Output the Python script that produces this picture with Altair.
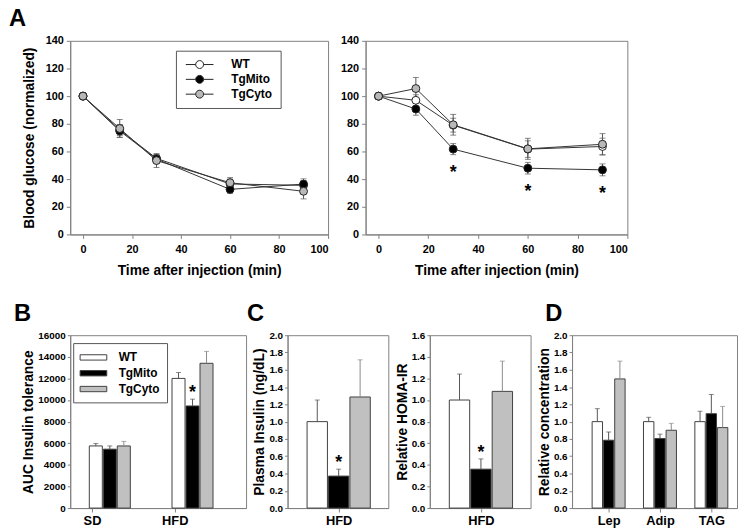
import altair as alt
import pandas as pd

F = "Liberation Sans"
groups = ["WT", "TgMito", "TgCyto"]

# ---------------- Panel A: insulin tolerance time courses ----------------
times = [0, 15, 30, 60, 90]
# left (SD)
sd_wt = [100, 75.5, 55.0, 36.5, 35.5]
sd_wt_err = [0, 4.0, 3.0, 3.5, 3.5]
sd_mito = [100, 74.8, 54.5, 32.6, 36.4]
sd_mito_err = [0, 4.5, 3.0, 3.0, 3.8]
sd_cyto = [100, 76.6, 53.4, 37.4, 31.2]
sd_cyto_err = [0, 6.5, 5.0, 3.7, 5.5]
# right (HFD)
hfd_wt = [100, 97.0, 79.0, 61.7, 63.6]
hfd_wt_err = [0, 4.0, 5.0, 6.0, 6.0]
hfd_mito = [100, 90.7, 61.7, 47.9, 46.7]
hfd_mito_err = [0, 4.5, 4.0, 4.2, 4.3]
hfd_cyto = [100, 105.5, 79.3, 61.9, 65.2]
hfd_cyto_err = [0, 8.0, 7.5, 7.6, 7.7]
hfd_star_times = [30, 60, 90]

# ---------------- Panel B: AUC ----------------
auc_cats = ["SD", "HFD"]
auc_wt = [5750, 12000]
auc_wt_err = [220, 550]
auc_mito = [5450, 9450]
auc_mito_err = [300, 630]
auc_cyto = [5750, 13400]
auc_cyto_err = [420, 1100]
auc_star_cats = ["HFD"]

# ---------------- Panel C ----------------
c_cats = ["HFD"]
ins_wt, ins_wt_err = [1.0], [0.25]
ins_mito, ins_mito_err = [0.37], [0.08]
ins_cyto, ins_cyto_err = [1.285], [0.43]
homa_wt, homa_wt_err = [1.0], [0.24]
homa_mito, homa_mito_err = [0.36], [0.095]
homa_cyto, homa_cyto_err = [1.08], [0.28]

# ---------------- Panel D ----------------
d_cats = ["Lep", "Adip", "TAG"]
d_wt = [1.0, 1.0, 1.0]
d_wt_err = [0.15, 0.05, 0.12]
d_mito = [0.785, 0.805, 1.092]
d_mito_err = [0.095, 0.05, 0.222]
d_cyto = [1.494, 0.90, 0.931]
d_cyto_err = [0.206, 0.08, 0.245]

marker_fill = ["white", "black", "#b8b8b8"]
bar_fill = ["white", "black", "#c0c0c0"]
err_col = {"WT": "#555555", "TgMito": "#555555", "TgCyto": "#8a8a8a"}


def line_df(vals, errs):
    rows = []
    for g in groups:
        for t, v, e in zip(times, vals[g], errs[g]):
            rows.append({"time": t, "group": g, "value": v, "err": e,
                         "lo": v - e, "hi": v + e})
    return pd.DataFrame(rows)


def bar_df(cats, vals, errs):
    rows = []
    for g in groups:
        for c, v, e in zip(cats, vals[g], errs[g]):
            rows.append({"cat": c, "group": g, "value": v, "err": e,
                         "hi": v + e, "ecol": err_col[g]})
    return pd.DataFrame(rows)


df_sd = line_df({"WT": sd_wt, "TgMito": sd_mito, "TgCyto": sd_cyto},
                {"WT": sd_wt_err, "TgMito": sd_mito_err, "TgCyto": sd_cyto_err})
df_hfd = line_df({"WT": hfd_wt, "TgMito": hfd_mito, "TgCyto": hfd_cyto},
                 {"WT": hfd_wt_err, "TgMito": hfd_mito_err, "TgCyto": hfd_cyto_err})
df_hfd_star = df_hfd[(df_hfd.group == "TgMito") & (df_hfd.time.isin(hfd_star_times))]

df_auc = bar_df(auc_cats, {"WT": auc_wt, "TgMito": auc_mito, "TgCyto": auc_cyto},
                {"WT": auc_wt_err, "TgMito": auc_mito_err, "TgCyto": auc_cyto_err})
df_ins = bar_df(c_cats, {"WT": ins_wt, "TgMito": ins_mito, "TgCyto": ins_cyto},
                {"WT": ins_wt_err, "TgMito": ins_mito_err, "TgCyto": ins_cyto_err})
df_homa = bar_df(c_cats, {"WT": homa_wt, "TgMito": homa_mito, "TgCyto": homa_cyto},
                 {"WT": homa_wt_err, "TgMito": homa_mito_err, "TgCyto": homa_cyto_err})
df_d = bar_df(d_cats, {"WT": d_wt, "TgMito": d_mito, "TgCyto": d_cyto},
              {"WT": d_wt_err, "TgMito": d_mito_err, "TgCyto": d_cyto_err})


def letter(t, dx, dy=22):
    return alt.TitleParams(t, anchor="start", frame="group", dx=dx, dy=dy, offset=7,
                           fontSize=24, fontWeight="bold", font=F, color="black",
                           baseline="alphabetic")


LINE_SYM = "M-3.5,0H-1M1,0H3.5M-1,0A1,1,0,1,1,1,0A1,1,0,1,1,-1,0Z"
BAR_SYM = "M-2,-0.4H2V0.4H-2Z"


def line_panel(df, width, ytitle, legend, title, star_df=None):
    xs = alt.Scale(domain=[-5.2, 100], nice=False, zero=False)
    xa = alt.Axis(values=[0, 20, 40, 60, 80, 100], title="Time after injection (min)",
                  labelFontSize=11, titleFontSize=14, tickSize=4, labelPadding=5,
                  titlePadding=10)
    ys = alt.Scale(domain=[0, 140], nice=False)
    ya = alt.Axis(values=list(range(0, 141, 20)), title=ytitle, labelFontSize=11,
                  titleFontSize=14, tickSize=4, labelPadding=3, titlePadding=9)
    X = alt.X("time:Q", scale=xs, axis=xa)

    def Y(f):
        return alt.Y(f, type="quantitative", scale=ys, axis=ya)

    base = alt.Chart(df)
    eb = base.transform_filter("datum.err > 0").mark_rule(
        color="#555555", strokeWidth=1).encode(x=X, y=Y("lo"), y2=alt.Y2("hi"))
    caps = base.transform_filter("datum.err > 0").transform_fold(
        ["lo", "hi"], as_=["k", "v"]).mark_tick(
        orient="horizontal", size=6, thickness=1, color="#555555").encode(x=X, y=Y("v"))
    line = base.mark_line(color="#333333", strokeWidth=1).encode(
        x=X, y=Y("value"), detail="group:N")
    pts = base.mark_point(shape="circle", filled=True, size=64, stroke="#222222",
                          strokeWidth=1, opacity=1).encode(
        x=X, y=Y("value"),
        fill=alt.Fill("group:N", sort=groups,
                      scale=alt.Scale(domain=groups, range=marker_fill), legend=legend))
    layers = [eb, caps, line, pts]
    if star_df is not None:
        layers.append(alt.Chart(star_df).mark_text(
            text="*", font=F, fontSize=18, fontWeight="bold", baseline="alphabetic",
            dy=29, color="black").encode(x=X, y=Y("value")))
    ch = alt.layer(*layers).properties(width=width, height=196)
    if title is not None:
        ch = ch.properties(title=title)
    return ch


def bar_panel(df, cats, width, ydom, yvals, yfmt, ytitle, xscale, xoff_pad,
              tick_offset, legend, title, star_cats):
    X = alt.X("cat:N", sort=cats, scale=xscale,
              axis=alt.Axis(title=None, labelAngle=0, labelFontSize=13, tickSize=4,
                            labelPadding=3, tickOffset=tick_offset))
    XO = alt.XOffset("group:N", sort=groups,
                     scale=alt.Scale(domain=groups, paddingInner=xoff_pad))
    ys = alt.Scale(domain=ydom, nice=False)
    ya = alt.Axis(values=yvals, format=yfmt, title=ytitle, labelFontSize=10,
                  titleFontSize=14, tickSize=3, labelPadding=2, titlePadding=2)

    def Y(f):
        return alt.Y(f, type="quantitative", scale=ys, axis=ya)

    base = alt.Chart(df)
    bars = base.mark_bar(stroke="#404040", strokeWidth=1).encode(
        x=X, xOffset=XO, y=Y("value"),
        fill=alt.Fill("group:N", sort=groups,
                      scale=alt.Scale(domain=groups, range=bar_fill), legend=legend))
    rules = base.mark_rule(strokeWidth=1).encode(
        x=X, xOffset=XO, y=Y("value"), y2=alt.Y2("hi"),
        color=alt.Color("ecol:N", scale=None))
    caps = base.mark_tick(size=5, thickness=1).encode(
        x=X, xOffset=XO, y=Y("hi"), color=alt.Color("ecol:N", scale=None))
    layers = [bars, rules, caps]
    if star_cats:
        sdf = df[(df.group == "TgMito") & (df.cat.isin(star_cats))]
        layers.append(alt.Chart(sdf).mark_text(
            text="*", font=F, fontSize=18, fontWeight="bold", baseline="alphabetic",
            dy=-1, color="black").encode(x=X, xOffset=XO, y=Y("hi")))
    ch = alt.layer(*layers).properties(width=width, height=175)
    if title is not None:
        ch = ch.properties(title=title)
    return ch


legend_A = alt.Legend(orient="none", legendX=107, legendY=10, title=None,
                      symbolType=LINE_SYM, symbolSize=64, symbolStrokeColor="#222222",
                      symbolStrokeWidth=1, symbolOffset=10, labelOffset=26,
                      labelFont=F, labelFontSize=12, labelFontWeight="bold",
                      labelColor="black", strokeColor="#555555", fillColor="white",
                      padding=8, rowPadding=3)
legend_B = alt.Legend(orient="none", legendX=3, legendY=8, title=None,
                      symbolType=BAR_SYM, symbolSize=182, symbolStrokeColor="#404040",
                      symbolStrokeWidth=1, symbolOffset=6, labelOffset=18,
                      labelFont=F, labelFontSize=12, labelFontWeight="bold",
                      labelColor="black", strokeColor="#555555", fillColor="white",
                      padding=7, rowPadding=2)

a_left = line_panel(df_sd, 261, "Blood glucose (normalized)", legend_A, letter("A", -62))
a_right = line_panel(df_hfd, 265, None, None, None, df_hfd_star)

b = bar_panel(df_auc, auc_cats, 178, [0, 16000], list(range(0, 16001, 2000)), "d",
              "AUC Insulin tolerance",
              alt.Scale(paddingInner=0.504, paddingOuter=0.315, align=0.366),
              0.07, -18, legend_B, letter("B", -57), auc_star_cats)
c_left = bar_panel(df_ins, c_cats, 102, [0, 2.0], [round(i * 0.2, 1) for i in range(11)],
                   ".1f", "Plasma Insulin (ng/dL)",
                   alt.Scale(paddingInner=0.0, paddingOuter=0.297, align=0.52),
                   0.05, 0, None, letter("C", -41), ["HFD"])
c_right = bar_panel(df_homa, c_cats, 102, [0, 1.6], [round(i * 0.2, 1) for i in range(9)],
                    ".1f", "Relative HOMA-IR",
                    alt.Scale(paddingInner=0.0, paddingOuter=0.297, align=0.52),
                    0.05, 0, None, None, ["HFD"])
d = bar_panel(df_d, d_cats, 167, [0, 2.0], [round(i * 0.2, 1) for i in range(11)],
              ".1f", "Relative concentration",
              alt.Scale(paddingInner=0.358, paddingOuter=0.285, align=0.686),
              0.08, 0, None, letter("D", -27), [])

RES = dict(fill="independent", x="independent", y="independent", xOffset="independent")

top = alt.hconcat(a_left, a_right, spacing=38, bounds="flush").resolve_scale(**RES).resolve_legend(fill="independent")
bottom = alt.hconcat(b, c_left, c_right, d, spacing=42, bounds="flush").resolve_scale(**RES).resolve_legend(fill="independent")

chart = alt.vconcat(top, bottom, spacing=23).resolve_scale(**RES).resolve_legend(
    fill="independent").properties(padding={"left": 0, "top": -5, "right": 0, "bottom": 0}).configure(
    font=F).configure_axis(
    labelFont=F, labelFontWeight="bold", labelColor="black", titleFont=F,
    titleFontWeight="bold", titleColor="black", domainColor="#808080",
    tickColor="#808080", grid=False).configure_view(stroke="#808080", strokeWidth=1)

chart.save("out.html", embed_options={"renderer": "svg", "actions": False})
